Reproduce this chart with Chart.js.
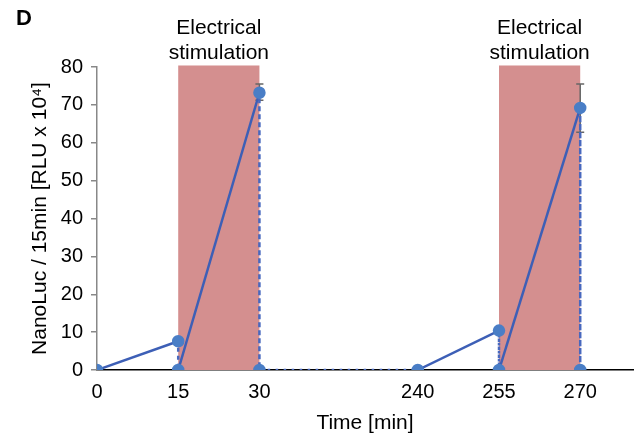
<!DOCTYPE html>
<html>
<head>
<meta charset="utf-8">
<script src="https://cdn.jsdelivr.net/npm/chart.js@4.4.1/dist/chart.umd.min.js"></script>
<style>
  html, body { margin: 0; padding: 0; background: #fff; }
  #wrap { width: 644px; height: 439px; position: relative; }
</style>
</head>
<body>
<div id="wrap"><canvas id="chart"></canvas></div>
<script>
// ── Data ─────────────────────────────────────────
const timeTicks = [0, 15, 30, 240, 255, 270];

// traced path: each 15-min window starts at 0 and climbs to its reading
const pathTimes  = [0, 15, 15, 30, 30, 240, 255, 255, 270, 270];
const pathValues = [0, 7.6, 0, 73.2, 0, 0, 10.4, 0, 69.2, 0];

const errTimes = [30, 270];
const errLow   = [71.2, 62.8];
const errHigh  = [75.5, 75.5];

const stimStart = [15, 255];
const stimEnd   = [30, 270];
const stimTop   = 80.4;
const stimLabel = ["Electrical", "stimulation"];

// broken time axis: the 30 -> 240 stretch is squeezed to about two steps
function pos(t) {
  return t <= 30 ? t / 15 : (t - 180.75) / 15;
}

const FONT = "'Liberation Sans', Arial, sans-serif";
const BLUE_LINE = "#3D5FB6";
const BLUE_DOT = "#4A7EC6";

const backdrop = {
  id: "backdrop",
  beforeDatasetsDraw(chart) {
    const { ctx, scales: { x, y } } = chart;
    ctx.save();
    ctx.fillStyle = "#D48F8F";
    stimStart.forEach((s, i) => {
      const x0 = x.getPixelForValue(pos(s));
      const x1 = x.getPixelForValue(pos(stimEnd[i]));
      const top = y.getPixelForValue(stimTop);
      const bot = y.getPixelForValue(0);
      ctx.fillRect(x0, top, x1 - x0, bot - top);
    });
    // error bars
    ctx.strokeStyle = "#666";
    ctx.lineWidth = 1.5;
    errTimes.forEach((t, i) => {
      const px = x.getPixelForValue(pos(t));
      const lo = y.getPixelForValue(errLow[i]);
      const hi = y.getPixelForValue(errHigh[i]);
      ctx.beginPath();
      ctx.moveTo(px, lo); ctx.lineTo(px, hi);
      ctx.moveTo(px - 4, lo); ctx.lineTo(px + 4, lo);
      ctx.moveTo(px - 4, hi); ctx.lineTo(px + 4, hi);
      ctx.stroke();
    });
    ctx.restore();
  },
  afterDraw(chart) {
    const { ctx, scales: { x } } = chart;
    ctx.save();
    ctx.fillStyle = "#000";
    ctx.textAlign = "center";
    ctx.textBaseline = "alphabetic";
    ctx.font = "21px " + FONT;
    stimStart.forEach((s, i) => {
      const cx = (x.getPixelForValue(pos(s)) + x.getPixelForValue(pos(stimEnd[i]))) / 2;
      ctx.fillText(stimLabel[0], cx, 34);
      ctx.fillText(stimLabel[1], cx, 59);
    });
    ctx.textAlign = "left";
    ctx.font = "bold 22px " + FONT;
    ctx.fillText("D", 16, 25);
    ctx.restore();
  },
};

const dotted = (c) =>
  c.p0.parsed.x === c.p1.parsed.x || c.p1.parsed.x - c.p0.parsed.x > 1.5;

new Chart(document.getElementById("chart"), {
  type: "line",
  data: {
    datasets: [
      {
        data: pathTimes.map((t, i) => ({ x: pos(t), y: pathValues[i] })),
        borderColor: BLUE_LINE,
        borderWidth: 2.5,
        pointBackgroundColor: BLUE_DOT,
        pointBorderColor: BLUE_DOT,
        pointRadius: 5,
        tension: 0,
        segment: {
          borderDash: (c) => (dotted(c) ? [2.5, 5.5] : undefined),
          borderColor: (c) => (dotted(c) ? "#4868BE" : undefined),
        },
      },
    ],
  },
  options: {
    responsive: true,
    maintainAspectRatio: false,
    animation: false,
    layout: { padding: { top: 67, right: 11, bottom: 3, left: 0 } },
    plugins: { legend: { display: false }, tooltip: { enabled: false } },
    scales: {
      x: {
        type: "linear",
        min: 0,
        max: 6.6,
        afterBuildTicks: (s) => {
          s.ticks = timeTicks.map((t) => ({ value: pos(t) }));
        },
        afterFit: (s) => { s.height = 66; },
        ticks: {
          color: "#000",
          font: { family: FONT, size: 20 },
          padding: 2,
          maxRotation: 0,
          callback: (v) => {
            const i = timeTicks.findIndex((t) => pos(t) === v);
            return i >= 0 ? String(timeTicks[i]) : "";
          },
        },
        grid: { display: false },
        border: { display: true, color: "#000", width: 1.5 },
        title: {
          display: true,
          text: "Time [min]",
          color: "#000",
          font: { family: FONT, size: 21 },
          padding: { top: 0, bottom: 0 },
        },
      },
      y: {
        min: 0,
        max: 80,
        afterFit: (s) => { s.width = 97; },
        ticks: {
          stepSize: 10,
          color: "#000",
          font: { family: FONT, size: 20 },
          padding: 8,
        },
        grid: { drawOnChartArea: false, drawTicks: true, tickLength: 6, color: "#888", lineWidth: 1.5 },
        border: { display: true, color: "#888", width: 1.5 },
        title: {
          display: true,
          text: "NanoLuc / 15min [RLU x 10\u2074]",
          color: "#000",
          font: { family: FONT, size: 21 },
          padding: { top: 28, bottom: 0 },
        },
      },
    },
  },
  plugins: [backdrop],
});
</script>
</body>
</html>
